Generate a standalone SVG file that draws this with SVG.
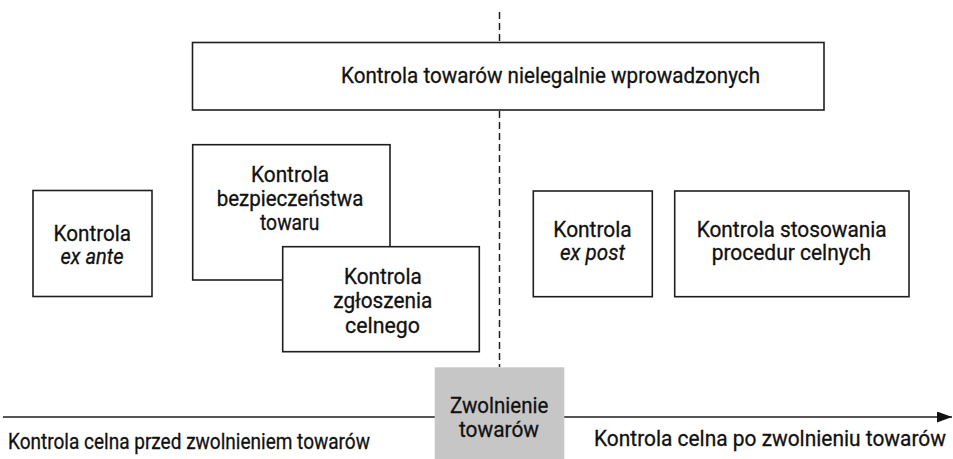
<svg xmlns="http://www.w3.org/2000/svg" width="953" height="459" viewBox="0 0 953 459">
  <style>
    .box { fill: #ffffff; stroke: #1e1e1e; stroke-width: 1.6; }
    .t { font-family: Roboto, "Liberation Sans", sans-serif; font-size: 22px; fill: #111111; stroke: #111111; stroke-width: 0.3; }
    .i { font-style: italic; }
    .dash { stroke: #1e1e1e; stroke-width: 1.5; stroke-dasharray: 7 4; fill: none; }
    .axis { stroke: #1e1e1e; stroke-width: 1.6; fill: none; }
  </style>
  <defs>
    <marker id="arrow" markerWidth="16" markerHeight="12" refX="15" refY="5.5" orient="auto" markerUnits="userSpaceOnUse">
      <path d="M0,0 L15,5.5 L0,11 Z" fill="#111111"/>
    </marker>
  </defs>
  <rect width="953" height="459" fill="#ffffff"/>

  <g id="connectors">
    <line class="dash" x1="499.5" y1="12" x2="499.5" y2="367"/>
    <line class="axis" x1="3" y1="417" x2="952" y2="417" marker-end="url(#arrow)"/>
  </g>

  <g id="node-nielegalne">
    <rect class="box" x="192.5" y="42.5" width="631.5" height="67.5"/>
    <text class="t" x="341" y="83" textLength="419" lengthAdjust="spacingAndGlyphs">Kontrola towarów nielegalnie wprowadzonych</text>
  </g>

  <g id="node-ex-ante">
    <rect class="box" x="33" y="190.5" width="119" height="106"/>
    <text class="t" x="53.5" y="241" textLength="77.5" lengthAdjust="spacingAndGlyphs">Kontrola</text>
    <text class="t i" x="60.5" y="264" textLength="63" lengthAdjust="spacingAndGlyphs">ex ante</text>
  </g>

  <g id="node-bezpieczenstwa">
    <rect class="box" x="192.7" y="144.7" width="197.3" height="135.3"/>
    <text class="t" x="251" y="181.5" textLength="78" lengthAdjust="spacingAndGlyphs">Kontrola</text>
    <text class="t" x="216.7" y="206" textLength="146.6" lengthAdjust="spacingAndGlyphs">bezpieczeństwa</text>
    <text class="t" x="260" y="230" textLength="59.3" lengthAdjust="spacingAndGlyphs">towaru</text>
  </g>

  <g id="node-zgloszenia">
    <rect class="box" x="282.7" y="246.7" width="196.6" height="105"/>
    <text class="t" x="344" y="284" textLength="77.7" lengthAdjust="spacingAndGlyphs">Kontrola</text>
    <text class="t" x="333.3" y="308" textLength="99" lengthAdjust="spacingAndGlyphs">zgłoszenia</text>
    <text class="t" x="345" y="332.5" textLength="75" lengthAdjust="spacingAndGlyphs">celnego</text>
  </g>

  <g id="node-ex-post">
    <rect class="box" x="533.3" y="191" width="119" height="105.7"/>
    <text class="t" x="553.3" y="236.7" textLength="78.4" lengthAdjust="spacingAndGlyphs">Kontrola</text>
    <text class="t i" x="560" y="259.5" textLength="65" lengthAdjust="spacingAndGlyphs">ex post</text>
  </g>

  <g id="node-stosowania">
    <rect class="box" x="674.7" y="191" width="234.3" height="105.7"/>
    <text class="t" x="696.7" y="236.7" textLength="190" lengthAdjust="spacingAndGlyphs">Kontrola stosowania</text>
    <text class="t" x="711.7" y="259.5" textLength="159.3" lengthAdjust="spacingAndGlyphs">procedur celnych</text>
  </g>

  <g id="node-zwolnienie">
    <rect x="434.7" y="367.3" width="129.6" height="92" fill="#c6c6c6"/>
    <text class="t" x="450" y="413.3" textLength="98.3" lengthAdjust="spacingAndGlyphs">Zwolnienie</text>
    <text class="t" x="459" y="437.3" textLength="80" lengthAdjust="spacingAndGlyphs">towarów</text>
  </g>

  <g id="label-przed">
    <text class="t" x="8" y="449" textLength="362" lengthAdjust="spacingAndGlyphs">Kontrola celna przed zwolnieniem towarów</text>
  </g>
  <g id="label-po">
    <text class="t" transform="translate(594,446) scale(0.9,1)" x="0" y="0" textLength="391" lengthAdjust="spacingAndGlyphs">Kontrola celna po zwolnieniu towarów</text>
  </g>
</svg>
